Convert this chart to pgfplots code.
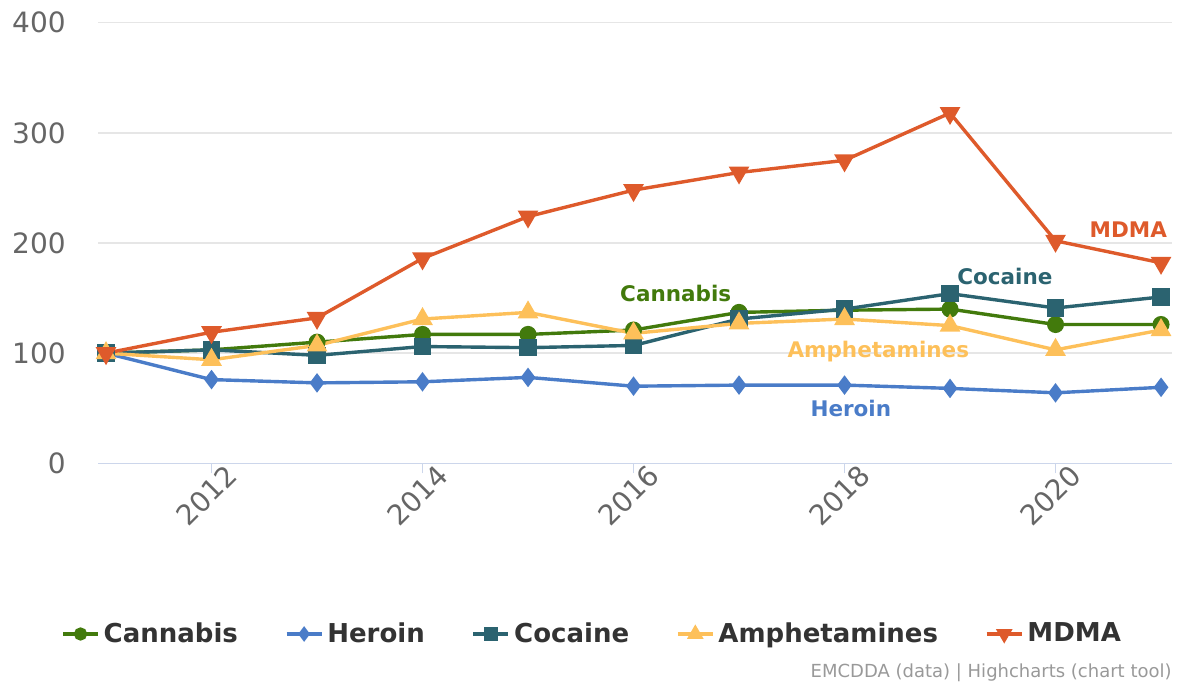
\documentclass[border=0pt]{standalone}
\usepackage{fontspec}
\setmainfont{DejaVu Sans}
\usepackage{pgfplots}
\pgfplotsset{compat=1.18}
\definecolor{cannabis}{RGB}{66,122,12}
\definecolor{heroin}{RGB}{74,124,200}
\definecolor{cocaine}{RGB}{43,99,112}
\definecolor{amphet}{RGB}{253,192,90}
\definecolor{mdma}{RGB}{222,90,43}
\definecolor{axisline}{RGB}{204,214,235}
\definecolor{gridgray}{RGB}{230,230,230}
\definecolor{ticktext}{RGB}{102,102,102}
\definecolor{legtext}{RGB}{51,51,51}
\definecolor{credit}{RGB}{153,153,153}
\begin{document}
\begin{tikzpicture}
\useasboundingbox (-49bp,-112.35bp) rectangle (540bp,231.65bp);
\begin{axis}[
  at={(0,0)}, anchor=south west,
  scale only axis, width=537bp, height=220.3bp,
  xmin=2010.924, xmax=2021.104, ymin=0, ymax=400,
  xtick={2012,2014,2016,2018,2020}, ytick={0,100,200,300,400},
  /pgf/number format/assume math mode=true,
  x tick label style={/pgf/number format/1000 sep={}},
  axis line style={draw=none},
  xtick pos=bottom, ytick pos=left,
  tick align=outside, major tick length=5bp,
  xtick style={color=axisline, line width=0.6bp},
  ytick style={draw=none},
  ymajorgrids, major grid style={color=gridgray, line width=0.7bp},
  yticklabel style={font=\fontsize{14bp}{16bp}\selectfont, text=ticktext, anchor=east, inner sep=0pt, xshift=-11bp},
  xticklabel style={font=\fontsize{14bp}{16bp}\selectfont, text=ticktext, anchor=east, inner sep=0pt, xshift=10.2bp, yshift=1.7bp, rotate=45},
  legend columns=5,
  legend style={draw=none, fill=none, at={(0.461,-0.3874)}, anchor=center,
    font=\bfseries\fontsize{13bp}{15bp}\selectfont, text=legtext,
    /tikz/every even column/.append style={column sep=21.5bp},
    /tikz/every odd column/.append style={column sep=0bp}},
  legend image code/.code={\draw[mark repeat=2,mark phase=2, every mark/.append style={scale=0.72}] plot coordinates {(0bp,0bp) (8.75bp,0bp) (17.5bp,0bp)};},
  every axis plot/.append style={line width=1.7bp},
]
\draw[axisline, line width=0.8bp] (rel axis cs:0,0) -- (rel axis cs:1,0);
\addplot[color=cannabis, mark=*, mark size=3.4bp, mark options={solid}] coordinates {
(2011,100) (2012,103) (2013,110) (2014,117) (2015,117) (2016,121) (2017,137) (2018,139) (2019,140) (2020,126) (2021,126)};
\addlegendentry{Cannabis}
\addplot[color=heroin, mark=diamond*, mark size=3.5bp, mark options={solid}] coordinates {
(2011,100) (2012,76) (2013,73) (2014,74) (2015,78) (2016,70) (2017,71) (2018,71) (2019,68) (2020,64) (2021,69)};
\addlegendentry{Heroin}
\addplot[color=cocaine, mark=square*, mark size=3.5bp, mark options={solid}] coordinates {
(2011,100) (2012,103) (2013,98) (2014,106) (2015,105) (2016,107) (2017,131) (2018,140) (2019,154) (2020,141) (2021,151)};
\addlegendentry{Cocaine}
\addplot[color=amphet, mark=triangle*, mark size=4.3bp, mark options={solid}] coordinates {
(2011,100) (2012,94) (2013,107) (2014,131) (2015,137) (2016,118) (2017,127) (2018,131) (2019,125) (2020,103) (2021,121)};
\addlegendentry{Amphetamines}
\addplot[color=mdma, mark=triangle*, mark size=4.3bp, mark options={solid, rotate=180}] coordinates {
(2011,100) (2012,119) (2013,132) (2014,186) (2015,224) (2016,248) (2017,264) (2018,275) (2019,318) (2020,202) (2021,182)};
\addlegendentry{MDMA}
\node[font=\bfseries\fontsize{10.75bp}{12bp}\selectfont, text=cannabis] at (axis cs:2016.4,154.5) {Cannabis};
\node[font=\bfseries\fontsize{10.75bp}{12bp}\selectfont, text=cocaine] at (axis cs:2019.52,170) {Cocaine};
\node[font=\bfseries\fontsize{10.75bp}{12bp}\selectfont, text=mdma] at (axis cs:2020.69,211.7) {MDMA};
\node[font=\bfseries\fontsize{10.75bp}{12bp}\selectfont, text=amphet] at (axis cs:2018.32,101.4) {Amphetamines};
\node[font=\bfseries\fontsize{10.75bp}{12bp}\selectfont, text=heroin] at (axis cs:2018.06,50.2) {Heroin};
\end{axis}
\node[anchor=east, inner sep=0pt, font=\fontsize{9bp}{10bp}\selectfont, text=credit] at (537bp,-104.85bp) {EMCDDA (data) | Highcharts (chart tool)};
\end{tikzpicture}
\end{document}
